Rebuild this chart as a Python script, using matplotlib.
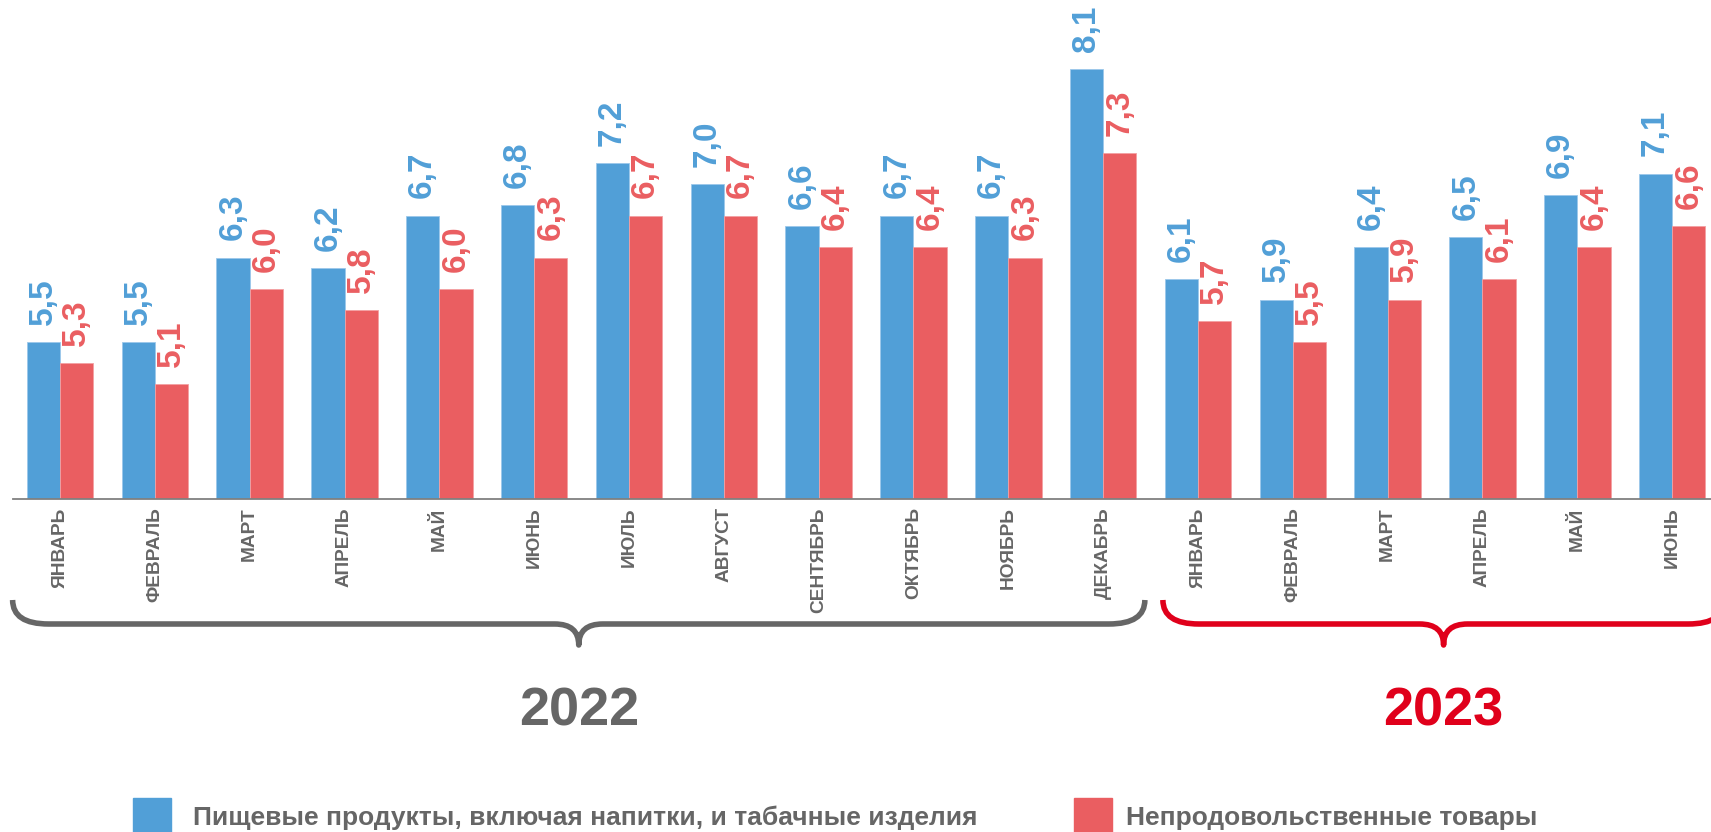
import matplotlib
matplotlib.use("Agg")
import matplotlib.pyplot as plt
from matplotlib.path import Path
from matplotlib.patches import PathPatch, Rectangle
import numpy as np

plt.rcParams['font.family'] = ['Liberation Sans', 'DejaVu Sans']

months = ["ЯНВАРЬ", "ФЕВРАЛЬ", "МАРТ", "АПРЕЛЬ", "МАЙ", "ИЮНЬ", "ИЮЛЬ", "АВГУСТ",
          "СЕНТЯБРЬ", "ОКТЯБРЬ", "НОЯБРЬ", "ДЕКАБРЬ",
          "ЯНВАРЬ", "ФЕВРАЛЬ", "МАРТ", "АПРЕЛЬ", "МАЙ", "ИЮНЬ"]
food = [5.5, 5.5, 6.3, 6.2, 6.7, 6.8, 7.2, 7.0, 6.6, 6.7, 6.7, 8.1,
        6.1, 5.9, 6.4, 6.5, 6.9, 7.1]
nonfood = [5.3, 5.1, 6.0, 5.8, 6.0, 6.3, 6.7, 6.7, 6.4, 6.4, 6.3, 7.3,
           5.7, 5.5, 5.9, 6.1, 6.4, 6.6]
years = ["2022", "2023"]
legend_labels = ["Пищевые продукты, включая напитки, и табачные изделия",
                 "Непродовольственные товары"]

BLUE = "#519FD7"
RED = "#EA5E61"
GRAY = "#666666"
DARKRED = "#E0001B"

W, H = 1711, 832
fig = plt.figure(figsize=(W / 100, H / 100), dpi=100)
ax = fig.add_axes([12.7 / W, (H - 499) / H, (W - 12.7) / W, 499 / H])
ax.set_xlim(-0.499, 17.41)
ax.set_ylim(4.0, 4.0 + 499 / 105)

x = np.arange(len(months))
bw = 0.351
ax.bar(x - bw / 2, food, bw, color=BLUE, edgecolor="#9cc8ea", linewidth=0.6)
ax.bar(x + bw / 2, nonfood, bw, color=RED, edgecolor="#f3a0a2", linewidth=0.6)

for xs, vals, col in ((x - bw / 2, food, BLUE), (x + bw / 2, nonfood, RED)):
    for xi, v in zip(xs, vals):
        ax.annotate(f"{v:.1f}".replace(".", ","), (xi, v), xytext=(0, 17),
                    textcoords="offset pixels", ha="center", va="bottom",
                    rotation=90, color=col, fontsize=24, fontweight="bold",
                    annotation_clip=False)

for s in ["top", "right", "left"]:
    ax.spines[s].set_visible(False)
ax.spines["bottom"].set_color("#808080")
ax.spines["bottom"].set_linewidth(1.3)
ax.set_yticks([])
ax.set_xticks(x)
ax.set_xticklabels(months, rotation=90, fontsize=13.8, fontweight="bold", color=GRAY,
                   va="top", ha="center")
ax.tick_params(axis="x", length=0, pad=6)

fig.canvas.draw()


def px(xd):
    return ax.transData.transform((xd, 4.0))[0]


def brace(x0, x1, color):
    y_top, y_mid, y_tip = 600, 624, 645
    r, r2 = 36, 24
    xc = (x0 + x1) / 2
    pts = [(x0, y_top), (x0, y_mid), (x0 + r, y_mid),
           (xc - r2, y_mid), (xc, y_mid), (xc, y_tip),
           (xc, y_mid), (xc + r2, y_mid),
           (x1 - r, y_mid), (x1, y_mid), (x1, y_top)]
    codes = [Path.MOVETO, Path.CURVE3, Path.CURVE3,
             Path.LINETO, Path.CURVE3, Path.CURVE3,
             Path.CURVE3, Path.CURVE3,
             Path.LINETO, Path.CURVE3, Path.CURVE3]
    verts = [(px_ / W, 1 - py / H) for px_, py in pts]
    patch = PathPatch(Path(verts, codes), transform=fig.transFigure, fill=False,
                      edgecolor=color, linewidth=4, capstyle="butt", joinstyle="round",
                      clip_on=False)
    fig.add_artist(patch)
    return xc


spans = [(-0.5, 11.44, GRAY), (11.63, 17.55, DARKRED)]
for (a, b, col), yr in zip(spans, years):
    xc = brace(px(a), px(b), col)
    fig.text(xc / W, 1 - 712 / H, yr, ha="center", va="center", fontsize=39,
             fontweight="bold", color=col)

# legend
for (sx, tx, col), lab in zip([(133, 193, BLUE), (1074, 1126, RED)], legend_labels):
    fig.add_artist(Rectangle((sx / W, 1 - 836 / H), 38 / W, 38 / H,
                             transform=fig.transFigure, color=col, clip_on=False))
    fig.text(tx / W, 1 - 818 / H, lab, ha="left", va="center", fontsize=19,
             fontweight="bold", color=GRAY)

fig.savefig("out.png", dpi=100)
